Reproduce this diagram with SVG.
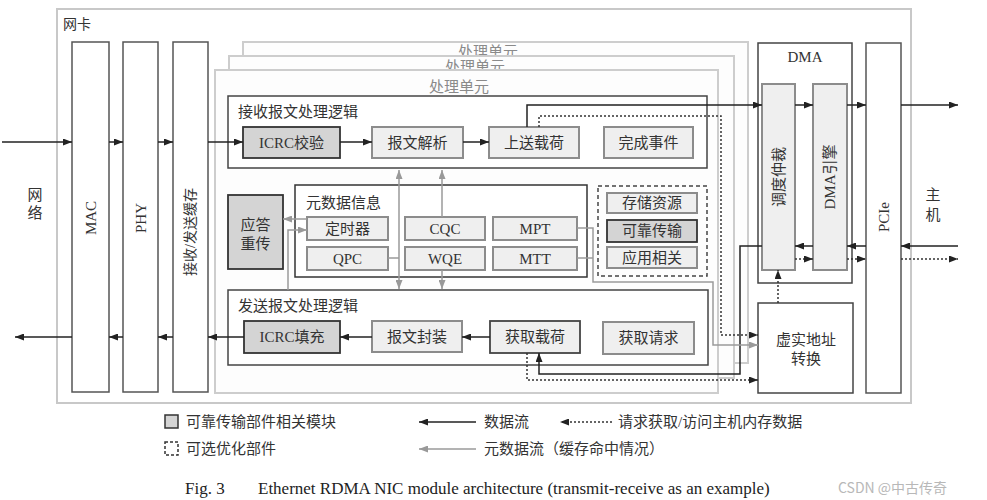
<svg xmlns="http://www.w3.org/2000/svg" width="987" height="500" viewBox="0 0 987 500">
<defs>
<style>
.t{font-family:"Liberation Serif","Noto Sans CJK SC",serif;font-size:15px;fill:#333;dominant-baseline:central}
.m{text-anchor:middle}
.lbl{fill:#8a8a8a}
.frame{fill:#fdfdfd;stroke:#cdcdcd;stroke-width:2}
.col{fill:#fff;stroke:#555;stroke-width:1.5}
.box{fill:#fff;stroke:#444;stroke-width:1.5}
.lt{fill:#efefef;stroke:#8c8c8c;stroke-width:2}
.dk{fill:#d4d4d4;stroke:#333;stroke-width:1.8}
.ld{fill:#efefef;stroke:#444;stroke-width:1.8}
.opt{fill:none;stroke:#444;stroke-width:1.5;stroke-dasharray:4,3}
.cb{fill:none;stroke:#222;stroke-width:1.5}
.cd{fill:none;stroke:#333;stroke-width:1.5;stroke-dasharray:2,2}
.cg{fill:none;stroke:#9a9a9a;stroke-width:1.5}
.cap{font-size:17px;fill:#222}
</style>
<marker id="a" viewBox="0 0 9 7" refX="9" refY="3.5" markerWidth="9" markerHeight="7" markerUnits="userSpaceOnUse" orient="auto-start-reverse"><path d="M0,0 L9,3.5 L0,7 z" fill="#222"/></marker>
<marker id="g" viewBox="0 0 9 7" refX="9" refY="3.5" markerWidth="9" markerHeight="7" markerUnits="userSpaceOnUse" orient="auto-start-reverse"><path d="M0,0 L9,3.5 L0,7 z" fill="#999"/></marker>
</defs>
<rect width="987" height="500" fill="#fff"/>

<g id="nic">
<rect x="57" y="9" width="854" height="394" fill="#fff" stroke="#c8c8c8" stroke-width="2"/>
<text class="t" x="63" y="24" style="font-size:14px">网卡</text>
</g>

<g id="pu3">
<rect class="frame" x="243" y="42" width="505" height="321"/>
<text class="t m lbl" x="488" y="51.5">处理单元</text>
</g>
<g id="pu2">
<rect class="frame" x="229" y="56" width="505" height="322"/>
<text class="t m lbl" x="475" y="66.5">处理单元</text>
</g>
<g id="pu1">
<rect class="frame" x="215" y="70" width="503" height="323"/>
<text class="t m lbl" x="459" y="87">处理单元</text>
</g>

<g id="mac"><rect class="col" x="72" y="42" width="37" height="350"/><text class="t m" transform="translate(90.5,218) rotate(-90)">MAC</text></g>
<g id="phy"><rect class="col" x="123" y="42" width="35" height="350"/><text class="t m" transform="translate(140.5,218) rotate(-90)">PHY</text></g>
<g id="buf"><rect class="col" x="173" y="42" width="35" height="350"/><text class="t m" style="font-size:14px" transform="translate(190.5,232) rotate(-90)">接收/发送缓存</text></g>

<g id="rx">
<rect class="box" x="228" y="96" width="479" height="72" fill="none"/>
<text class="t" x="238" y="112">接收报文处理逻辑</text>
</g>
<g id="icrc-chk"><rect class="dk" x="243" y="127" width="97" height="31"/><text class="t m" x="291.5" y="142.5">ICRC校验</text></g>
<g id="parse"><rect class="lt" x="372" y="127" width="91" height="31"/><text class="t m" x="417.5" y="142.5">报文解析</text></g>
<g id="upload"><rect class="lt" x="489" y="127" width="90" height="31"/><text class="t m" x="534" y="142.5">上送载荷</text></g>
<g id="cqe"><rect class="lt" x="604" y="127" width="89" height="31"/><text class="t m" x="648.5" y="142.5">完成事件</text></g>

<g id="retx"><rect class="dk" x="228" y="195" width="55" height="74"/><text class="t m" x="255.5" y="225">应答</text><text class="t m" x="255.5" y="244">重传</text></g>

<g id="meta">
<rect x="295" y="185" width="292" height="92" fill="#fff" stroke="#333" stroke-width="1.5"/>
<text class="t" x="306" y="203">元数据信息</text>
</g>
<g id="timer"><rect class="lt" x="307" y="217" width="81" height="23"/><text class="t m" x="347.5" y="228.5">定时器</text></g>
<g id="qpc"><rect class="lt" x="307" y="247" width="81" height="23"/><text class="t m" x="347.5" y="258.5">QPC</text></g>
<g id="cqc"><rect class="lt" x="405" y="217" width="80" height="23"/><text class="t m" x="445" y="228.5">CQC</text></g>
<g id="wqe"><rect class="lt" x="405" y="247" width="80" height="23"/><text class="t m" x="445" y="258.5">WQE</text></g>
<g id="mpt"><rect class="lt" x="493" y="217" width="84" height="23"/><text class="t m" x="535" y="228.5">MPT</text></g>
<g id="mtt"><rect class="lt" x="493" y="247" width="84" height="23"/><text class="t m" x="535" y="258.5">MTT</text></g>

<g id="optional"><rect class="opt" x="598" y="186" width="109" height="90"/></g>
<g id="store"><rect class="lt" x="607" y="193" width="90" height="20"/><text class="t m" x="652" y="203">存储资源</text></g>
<g id="reliable"><rect class="dk" x="607" y="220" width="90" height="22"/><text class="t m" x="652" y="231">可靠传输</text></g>
<g id="app"><rect class="lt" x="607" y="247" width="90" height="21"/><text class="t m" x="652" y="257.5">应用相关</text></g>

<g id="tx">
<rect class="box" x="228" y="290" width="480" height="75" fill="none"/>
<text class="t" x="238" y="306">发送报文处理逻辑</text>
</g>
<g id="icrc-fill"><rect class="dk" x="244" y="321" width="96" height="32"/><text class="t m" x="292" y="337">ICRC填充</text></g>
<g id="encap"><rect class="lt" x="372" y="321" width="90" height="31"/><text class="t m" x="417" y="336.5">报文封装</text></g>
<g id="fetch"><rect class="ld" x="490" y="321" width="90" height="32"/><text class="t m" x="535" y="337">获取载荷</text></g>
<g id="req"><rect class="lt" x="603" y="322" width="91" height="32"/><text class="t m" x="648.5" y="338">获取请求</text></g>

<g id="dma">
<rect class="box" x="758" y="43" width="94" height="240"/>
<text class="t m" x="805" y="57">DMA</text>
</g>
<g id="arb"><rect class="lt" x="762" y="84" width="33" height="186" stroke-width="1.5"/><text class="t m" transform="translate(778.5,177) rotate(-90)">调度仲裁</text></g>
<g id="engine"><rect class="lt" x="813" y="84" width="34" height="186" stroke-width="1.5"/><text class="t m" transform="translate(830,177) rotate(-90)">DMA引擎</text></g>
<g id="pcie"><rect class="col" x="866" y="43" width="35" height="350"/><text class="t m" transform="translate(883.5,217) rotate(-90)">PCIe</text></g>
<g id="addr"><rect class="box" x="758" y="303" width="95" height="90"/><text class="t m" x="806" y="340">虚实地址</text><text class="t m" x="806" y="359">转换</text></g>

<g id="ext">
<text class="t m" x="35" y="195">网</text><text class="t m" x="35" y="213">络</text>
<text class="t m" x="933" y="195">主</text><text class="t m" x="933" y="215">机</text>
</g>

<g id="connectors">
<path class="cb" marker-end="url(#a)" d="M2,142 H72"/>
<path class="cb" marker-end="url(#a)" d="M109,142 H123"/>
<path class="cb" marker-end="url(#a)" d="M158,142 H173"/>
<path class="cb" marker-end="url(#a)" d="M208,142 H243"/>
<path class="cb" marker-end="url(#a)" d="M340,142 H372"/>
<path class="cb" marker-end="url(#a)" d="M463,142 H489"/>
<path class="cb" marker-end="url(#a)" d="M244,337 H208"/>
<path class="cb" marker-end="url(#a)" d="M173,337 H158"/>
<path class="cb" marker-end="url(#a)" d="M123,337 H109"/>
<path class="cb" marker-end="url(#a)" d="M72,337 H15"/>
<path class="cb" marker-end="url(#a)" d="M490,337 H462"/>
<path class="cb" marker-end="url(#a)" d="M372,337 H340"/>
<path class="cb" marker-end="url(#a)" d="M527,127 V105 H762"/>
<path class="cb" marker-end="url(#a)" d="M795,105 H813"/>
<path class="cb" marker-end="url(#a)" d="M847,105 H866"/>
<path class="cb" marker-end="url(#a)" d="M901,105 H958"/>
<path class="cb" marker-end="url(#a)" d="M958,246 H901"/>
<path class="cb" marker-end="url(#a)" d="M866,246 H847"/>
<path class="cb" marker-end="url(#a)" d="M813,246 H795"/>
<path class="cb" marker-end="url(#a)" d="M762,246 H740 V374 H539 V353"/>
<path class="cd" marker-end="url(#a)" d="M539,127 V116 H721 V335 H758"/>
<path class="cd" marker-end="url(#a)" d="M527,353 V380 H758"/>
<path class="cd" marker-end="url(#a)" d="M778,303 V270"/>
<path class="cd" marker-end="url(#a)" d="M795,259 H813"/>
<path class="cd" marker-end="url(#a)" d="M847,259 H866"/>
<path class="cd" marker-end="url(#a)" d="M901,259 H958"/>
<path class="cg" marker-end="url(#g)" d="M307,219 H283"/>
<path class="cg" marker-end="url(#g)" d="M288,290 V230 H307"/>
<path class="cg" marker-start="url(#g)" marker-end="url(#g)" d="M399,289 V170"/>
<path class="cg" d="M388,258 H399"/>
<path class="cg" marker-end="url(#g)" d="M442,217 V170"/>
<path class="cg" marker-end="url(#g)" d="M442,270 V289"/>
<path class="cg" d="M577,258 H593"/>
<path class="cg" marker-end="url(#g)" d="M577,228 H593 V282 H713 V345 H758"/>
</g>

<g id="legend">
<rect x="165" y="415" width="13" height="13" fill="#d4d4d4" stroke="#333" stroke-width="1.5"/>
<rect x="165" y="442" width="13" height="13" fill="none" stroke="#333" stroke-width="1.5" stroke-dasharray="3,2"/>
<text class="t" x="186" y="422">可靠传输部件相关模块</text>
<text class="t" x="186" y="449">可选优化部件</text>
<path class="cb" marker-end="url(#a)" d="M476,422 H419"/>
<text class="t" x="484" y="422">数据流</text>
<path class="cd" marker-end="url(#a)" d="M612,422 H560"/>
<text class="t" x="618" y="422">请求获取/访问主机内存数据</text>
<path class="cg" marker-end="url(#g)" d="M476,449 H419"/>
<text class="t" x="484" y="449">元数据流（缓存命中情况）</text>
<text class="t cap" x="185" y="488">Fig. 3</text>
<text class="t cap" x="258" y="488">Ethernet RDMA NIC module architecture (transmit-receive as an example)</text>
<text x="838" y="493" font-family="Noto Sans CJK SC, sans-serif" font-size="14" fill="#b8b8b8">CSDN @中古传奇</text>
</g>
</svg>
